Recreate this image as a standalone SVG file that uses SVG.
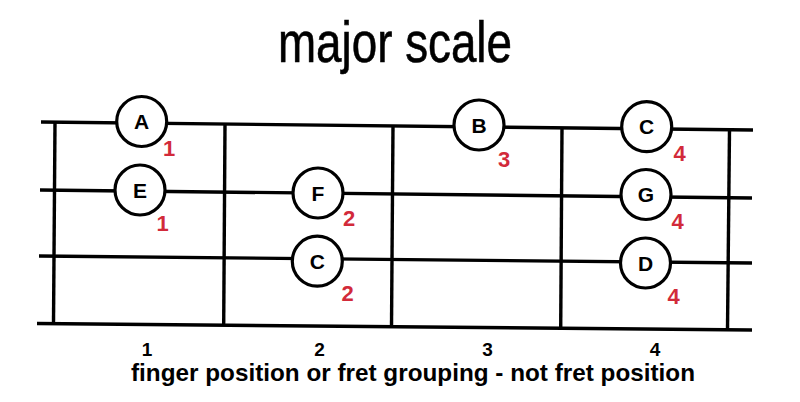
<svg xmlns="http://www.w3.org/2000/svg" width="800" height="402" viewBox="0 0 800 402">
<style>
.ln{stroke:#000;stroke-width:3.4;fill:none;stroke-linecap:butt}
.nd circle{fill:#fff;stroke:#000;stroke-width:3.2}
.nd text.n{font-family:"Liberation Sans",Arial,sans-serif;font-weight:bold;font-size:21px;fill:#000;text-anchor:middle}
.nd text.f{font-family:"Liberation Sans",Arial,sans-serif;font-weight:bold;font-size:22px;fill:#d22a3a;text-anchor:middle}
.lbl{font-family:"Liberation Sans",Arial,sans-serif;font-weight:bold;fill:#000}
</style>
<rect width="800" height="402" fill="#fff"/>
<text x="278" y="62" font-family="'Liberation Sans Narrow','Liberation Sans',Arial,sans-serif" font-size="57" textLength="234" lengthAdjust="spacingAndGlyphs" fill="#000" stroke="#000" stroke-width="0.6">major scale</text>
<g id="connectors">
<line class="ln" x1="41" y1="122" x2="753" y2="130"/>
<line class="ln" x1="40" y1="190" x2="752" y2="198"/>
<line class="ln" x1="39" y1="256" x2="752" y2="263"/>
<line class="ln" x1="37" y1="323.5" x2="752" y2="330"/>
<line class="ln" x1="55" y1="122" x2="53.5" y2="323.5"/>
<line class="ln" x1="225" y1="124" x2="223.7" y2="325"/>
<line class="ln" x1="393" y1="126" x2="391.5" y2="327"/>
<line class="ln" x1="562" y1="128" x2="560.7" y2="328.5"/>
<line class="ln" x1="729.5" y1="129.5" x2="727.5" y2="330"/>
</g>
<g id="node-A" class="nd"><circle cx="141.7" cy="121.5" r="25"/><text class="n" x="141.7" y="129">A</text><text class="f" x="169.2" y="156">1</text></g>
<g id="node-E" class="nd"><circle cx="140" cy="190" r="25"/><text class="n" x="140" y="197.5">E</text><text class="f" x="162.5" y="231">1</text></g>
<g id="node-F" class="nd"><circle cx="318" cy="193" r="25"/><text class="n" x="318" y="200.5">F</text><text class="f" x="349" y="226">2</text></g>
<g id="node-C2" class="nd"><circle cx="317.3" cy="261.2" r="25"/><text class="n" x="317.3" y="268.7">C</text><text class="f" x="347.5" y="301">2</text></g>
<g id="node-B" class="nd"><circle cx="479" cy="125" r="25"/><text class="n" x="479" y="132.5">B</text><text class="f" x="504" y="167">3</text></g>
<g id="node-C4" class="nd"><circle cx="646.7" cy="126.7" r="25"/><text class="n" x="646.7" y="134.2">C</text><text class="f" x="679.7" y="161">4</text></g>
<g id="node-G" class="nd"><circle cx="646" cy="194.5" r="25"/><text class="n" x="646" y="202">G</text><text class="f" x="677.5" y="229">4</text></g>
<g id="node-D" class="nd"><circle cx="645.5" cy="263" r="25"/><text class="n" x="645.5" y="270.5">D</text><text class="f" x="673.5" y="303.5">4</text></g>
<g id="labels">
<text class="lbl" font-size="19" x="147" y="356" text-anchor="middle">1</text>
<text class="lbl" font-size="19" x="319.5" y="356" text-anchor="middle">2</text>
<text class="lbl" font-size="19" x="487.5" y="356" text-anchor="middle">3</text>
<text class="lbl" font-size="19" x="655" y="356" text-anchor="middle">4</text>
<text class="lbl" font-size="24" x="131" y="381" textLength="564" lengthAdjust="spacingAndGlyphs">finger position or fret grouping - not fret position</text>
</g>
</svg>
